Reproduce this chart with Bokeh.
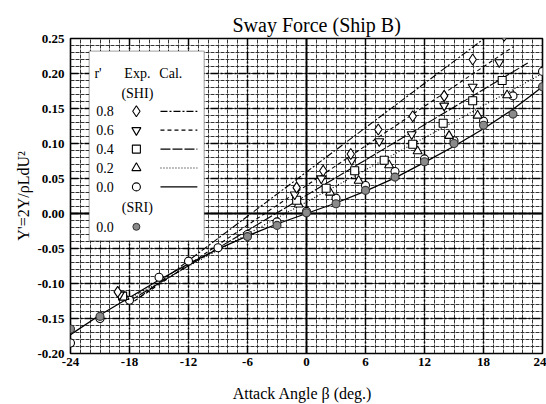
from bokeh.plotting import figure
from bokeh.models import (FixedTicker, Grid, Span, Label, BoxAnnotation,
                          PrintfTickFormatter, Range1d)
from bokeh.embed import file_html
from bokeh.resources import INLINE

# ---- experimental data (SHI), r' = 0
beta_r00 = [-24, -21, -18, -15, -12, -9, -6, -3, 0, 3, 6, 9, 12, 15, 18, 21, 24]
y_r00 = [-0.185, -0.150, -0.124, -0.091, -0.068, -0.049, -0.030, -0.012, 0.003,
         0.022, 0.040, 0.060, 0.078, 0.104, 0.132, 0.168, 0.203]

# ---- experimental data (SHI), r' = 0.2 / 0.4 / 0.6 / 0.8
beta_r02 = [-18.5, -0.8, 2.4, 5.3, 8.4, 11.3, 14.5, 17.4, 20.4]
y_r02 = [-0.119, 0.013, 0.030, 0.047, 0.069, 0.089, 0.111, 0.140, 0.169]
beta_r04 = [-18.7, -1.0, 2.0, 4.9, 7.9, 10.8, 13.9, 16.9, 19.9]
y_r04 = [-0.118, 0.019, 0.036, 0.061, 0.076, 0.099, 0.129, 0.161, 0.190]
beta_r06 = [-19.0, -1.2, 1.5, 4.6, 7.4, 10.7, 14.0, 16.9, 19.6]
y_r06 = [-0.116, 0.027, 0.050, 0.076, 0.103, 0.113, 0.154, 0.181, 0.216]
beta_r08 = [-19.2, -1.0, 1.7, 4.5, 7.3, 10.8, 14.0, 16.9, 20.1]
y_r08 = [-0.112, 0.037, 0.061, 0.085, 0.120, 0.139, 0.168, 0.220, 0.254]

# ---- experimental data (SRI), r' = 0
beta_sri = [-24, -21, -6, -3, 0, 3, 6, 9, 12, 15, 18, 21, 24]
y_sri = [-0.165, -0.147, -0.033, -0.017, 0.001, 0.014, 0.033, 0.052, 0.074,
         0.100, 0.126, 0.142, 0.181]

# ---- calculated curves
beta_cal00 = [-24, -21, -18, -15, -12, -9, -6, -3, 0, 3, 6, 9, 12, 15, 18, 21, 24]
y_cal00 = [-0.173, -0.145, -0.120, -0.095, -0.072, -0.051, -0.032, -0.015, 0.000,
           0.015, 0.032, 0.051, 0.073, 0.096, 0.121, 0.149, 0.181]
beta_cal02 = [-18.5, 24.0]
y_cal02 = [-0.125, 0.200]
beta_cal04 = [-18.0, 22.5]
y_cal04 = [-0.125, 0.215]
beta_cal06 = [-17.5, 21.0]
y_cal06 = [-0.125, 0.238]
beta_cal08 = [-17.0, 19.5]
y_cal08 = [-0.120, 0.265]

x_ticks = [-24, -18, -12, -6, 0, 6, 12, 18, 24]
y_ticks = [-0.20, -0.15, -0.10, -0.05, 0.00, 0.05, 0.10, 0.15, 0.20, 0.25]

SERIF = "Liberation Serif"

p = figure(width=546, height=404, output_backend="svg", toolbar_location=None,
           x_range=Range1d(-24, 24), y_range=Range1d(-0.20, 0.25),
           min_border_left=70, min_border_right=4, min_border_top=38,
           min_border_bottom=50, background_fill_color="white",
           border_fill_color="white")
p.outline_line_color = "black"
p.outline_line_width = 1.6
p.xgrid.visible = False
p.ygrid.visible = False

p.title.text = "Sway Force  (Ship B)"
p.title.align = "left"
p.title.offset = 162
p.title.text_font = SERIF
p.title.text_font_size = "20px"
p.title.text_font_style = "normal"
p.title.text_color = "black"
p.title.standoff = 6

# dense millimetre-style grid
minor_x = FixedTicker(ticks=list(range(-24, 25)))
minor_y = FixedTicker(ticks=[round(-0.20 + 0.01 * i, 2) for i in range(46)])
p.add_layout(Grid(dimension=0, ticker=minor_x, grid_line_color="#333333",
                  grid_line_width=1, grid_line_dash="4 1"))
p.add_layout(Grid(dimension=1, ticker=minor_y, grid_line_color="#333333",
                  grid_line_width=1, grid_line_dash="4 1"))
p.add_layout(Grid(dimension=0, ticker=FixedTicker(ticks=x_ticks),
                  grid_line_color="#000000", grid_line_width=1.5,
                  grid_line_dash="8 2 2 2"))
p.add_layout(Grid(dimension=1, ticker=FixedTicker(ticks=y_ticks),
                  grid_line_color="#000000", grid_line_width=1.5,
                  grid_line_dash="8 2 2 2"))
p.add_layout(Span(location=0, dimension="height", line_color="black",
                  line_width=1.8, level="underlay"))
p.add_layout(Span(location=0, dimension="width", line_color="black",
                  line_width=1.8, level="underlay"))

# axes
for ax in (p.xaxis[0], p.yaxis[0]):
    ax.axis_line_color = None
    ax.major_tick_line_color = None
    ax.minor_tick_line_color = None
    ax.major_tick_out = 0
    ax.major_tick_in = 0
    ax.minor_tick_out = 0
    ax.minor_tick_in = 0
    ax.major_label_text_font = SERIF
    ax.major_label_text_font_size = "13px"
    ax.major_label_text_font_style = "bold"
    ax.major_label_text_color = "black"
    ax.axis_label_text_font = SERIF
    ax.axis_label_text_font_style = "normal"
    ax.axis_label_text_font_size = "16px"
    ax.axis_label_text_color = "black"
p.xaxis.ticker = FixedTicker(ticks=x_ticks)
p.yaxis.ticker = FixedTicker(ticks=y_ticks)
p.yaxis.formatter = PrintfTickFormatter(format="%.2f")
p.xaxis.formatter = PrintfTickFormatter(format="%d")
p.xaxis.major_label_standoff = 4
p.yaxis.major_label_standoff = 6
p.xaxis.axis_label = "Attack Angle  \u03b2  (deg.)"
p.yaxis.axis_label = "Y'=2Y/\u03c1LdU\u00b2"
p.xaxis.axis_label_standoff = 16
p.yaxis.axis_label_standoff = 2

# calculated curves
p.line(beta_cal00, y_cal00, line_color="black", line_width=1.3)
p.line(beta_cal02, y_cal02, line_color="black", line_width=1.1, line_dash="1 2")
p.line(beta_cal04, y_cal04, line_color="black", line_width=1.1, line_dash="10 2")
p.line(beta_cal06, y_cal06, line_color="black", line_width=1.1, line_dash="4 3")
p.line(beta_cal08, y_cal08, line_color="black", line_width=1.1, line_dash="7 2 2 2")

# experimental points
mk = dict(fill_color="white", line_color="black", line_width=1.1)
p.scatter(beta_r00, y_r00, marker="circle", size=8, **mk)
p.scatter(beta_r02, y_r02, marker="triangle", size=9, **mk)
p.scatter(beta_r04, y_r04, marker="square", size=8, **mk)
p.scatter(beta_r06, y_r06, marker="inverted_triangle", size=9, **mk)
p.scatter(beta_r08, y_r08, marker="diamond", size=11, **mk)
p.scatter(beta_sri, y_sri, marker="circle", size=8, fill_color="#8a8a8a",
          line_color="#333333", line_width=1.1)

# legend panel
p.add_layout(BoxAnnotation(left=-22.1, right=-10.4, top=0.232, bottom=-0.039,
                           fill_color="white", fill_alpha=1.0,
                           line_color="black", line_width=1.3))


def txt(x, y, s, align="center", size="14px"):
    p.add_layout(Label(x=x, y=y, text=s, text_font=SERIF,
                       text_font_size=size, text_align=align,
                       text_baseline="middle", text_color="black"))


txt(-21.2, 0.200, "r'")
txt(-17.2, 0.200, "Exp.")
txt(-13.8, 0.200, "Cal.")
txt(-17.2, 0.172, "(SHI)")
rows = [("0.8", "diamond", 11, "7 2 2 2"), ("0.6", "inverted_triangle", 9, "4 3"),
        ("0.4", "square", 8, "10 2"), ("0.2", "triangle", 9, "1 2"),
        ("0.0", "circle", 8, "solid")]
row_y = [0.146, 0.119, 0.092, 0.065, 0.038]
for (lab, m, sz, dash), yy in zip(rows, row_y):
    txt(-20.5, yy, lab)
    r = p.scatter([-17.3], [yy], marker=m, size=sz, **mk)
    r.level = "overlay"
    l = p.line([-14.85, -11.1], [yy, yy], line_color="black", line_width=1.2,
               line_dash=dash)
    l.level = "overlay"
txt(-17.2, 0.008, "(SRI)")
txt(-20.5, -0.019, "0.0")
r = p.scatter([-17.3], [-0.019], marker="circle", size=7, fill_color="#8a8a8a",
              line_color="#333333")
r.level = "overlay"

open("out.html", "w").write(file_html(p, INLINE))
